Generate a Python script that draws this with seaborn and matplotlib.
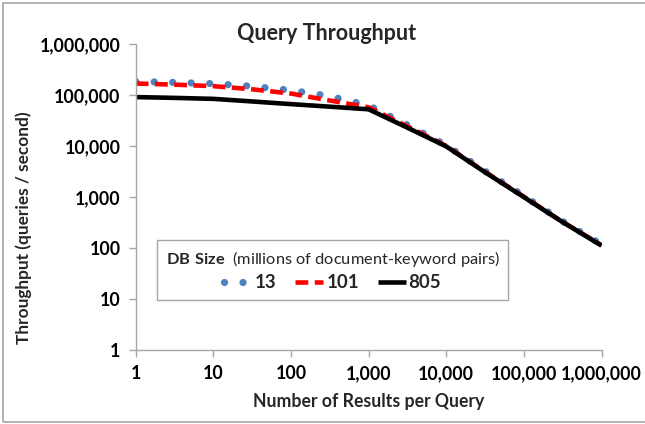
import numpy as np
import pandas as pd
import matplotlib
matplotlib.use("Agg")
import matplotlib.pyplot as plt
import matplotlib.ticker as mticker
from matplotlib.patches import Rectangle
import seaborn as sns

###########################
# DATA
###########################
results = [1, 3, 10, 30, 100, 300, 1000, 3000, 10000, 30000, 100000, 300000, 1000000]
db_13 = [186000, 179000, 169000, 151000, 125000, 97000, 63000, 27000, 10400, 3400, 1050, 350, 118]
db_101 = [170000, 162000, 151000, 132000, 108000, 80000, 58000, 25500, 10100, 3300, 1020, 342, 114]
db_805 = [92000, 89000, 85000, 76000, 67000, 60000, 53000, 24000, 9900, 3250, 1000, 340, 112]
series_labels = ["13", "101", "805"]
tick_vals = [1, 10, 100, 1000, 10000, 100000, 1000000]
tick_labels = ["1", "10", "100", "1,000", "10,000", "100,000", "1,000,000"]

df = pd.DataFrame({"results": results, "13": db_13, "101": db_101, "805": db_805})

###########################
# STYLE
###########################
sns.set_theme(style="white")
plt.rcParams["font.family"] = ["Lato", "DejaVu Sans"]
plt.rcParams["mathtext.fontset"] = "custom"
plt.rcParams["mathtext.rm"] = "Lato"
plt.rcParams["mathtext.bf"] = "Lato:bold"

grey = "#A6A6A6"

fig = plt.figure(figsize=(6.45, 4.24), dpi=100)
ax = fig.add_axes([0.2104, 0.1745, 0.7222, 0.7210])

# figure border
fig.patches.append(Rectangle((3 / 645, 2 / 424), 1.0, 419 / 424, transform=fig.transFigure,
                             fill=False, edgecolor=grey, lw=1.2, zorder=0))

###########################
# LINES
###########################
sns.lineplot(data=df, x="results", y="13", ax=ax, color="#4F81BD", lw=5.2,
             linestyle=(0, (0.01, 2.55)), dash_capstyle="round", label=series_labels[0])
sns.lineplot(data=df, x="results", y="101", ax=ax, color="#FF0000", lw=3.3,
             linestyle=(0, (2.8, 1.4)), label=series_labels[1])
sns.lineplot(data=df, x="results", y="805", ax=ax, color="black", lw=3.3,
             solid_capstyle="butt", label=series_labels[2])

ax.set_xscale("log")
ax.set_yscale("log")
ax.set_xlim(1, 1000000)
ax.set_ylim(1, 1000000)
ax.xaxis.set_major_locator(mticker.FixedLocator(tick_vals))
ax.yaxis.set_major_locator(mticker.FixedLocator(tick_vals))
ax.xaxis.set_minor_locator(mticker.NullLocator())
ax.yaxis.set_minor_locator(mticker.NullLocator())
ax.set_xticklabels(tick_labels)
ax.set_yticklabels(tick_labels)

for s in ["top", "right"]:
    ax.spines[s].set_visible(False)
for s in ["left", "bottom"]:
    ax.spines[s].set_color(grey)
    ax.spines[s].set_linewidth(1.0)

ax.tick_params(axis="both", which="major", length=5, width=1, color=grey,
               direction="out", labelsize=12.8, labelcolor="black", pad=6,
               bottom=True, left=True)
for lab in ax.get_xticklabels() + ax.get_yticklabels():
    lab.set_fontweight("bold")

fig.text(0.507, 1 - 33 / 424, "Query Throughput", fontsize=15.5, fontweight="bold",
         ha="center", va="center")
ax.set_xlabel("Number of Results per Query", fontsize=12.7, fontweight="bold")
ax.set_ylabel("Throughput (queries / second)", fontsize=12.4, fontweight="bold")
ax.xaxis.set_label_coords(0.5, -0.14)
ax.yaxis.set_label_coords(-0.222, 0.40)

leg = ax.legend(loc="lower left", bbox_to_anchor=(0.046, 0.164), ncol=3,
                title=r"$\mathbf{DB\ Size}$  (millions of document-keyword pairs)",
                title_fontsize=11.8, prop={"weight": "bold", "size": 13.5},
                frameon=True, fancybox=False, edgecolor=grey, framealpha=1,
                handlelength=1.5, handletextpad=0.15, columnspacing=1.0,
                borderpad=0.45, labelspacing=0.3, borderaxespad=0)
leg.get_frame().set_linewidth(1.0)

plt.savefig("out.png", dpi=100)
